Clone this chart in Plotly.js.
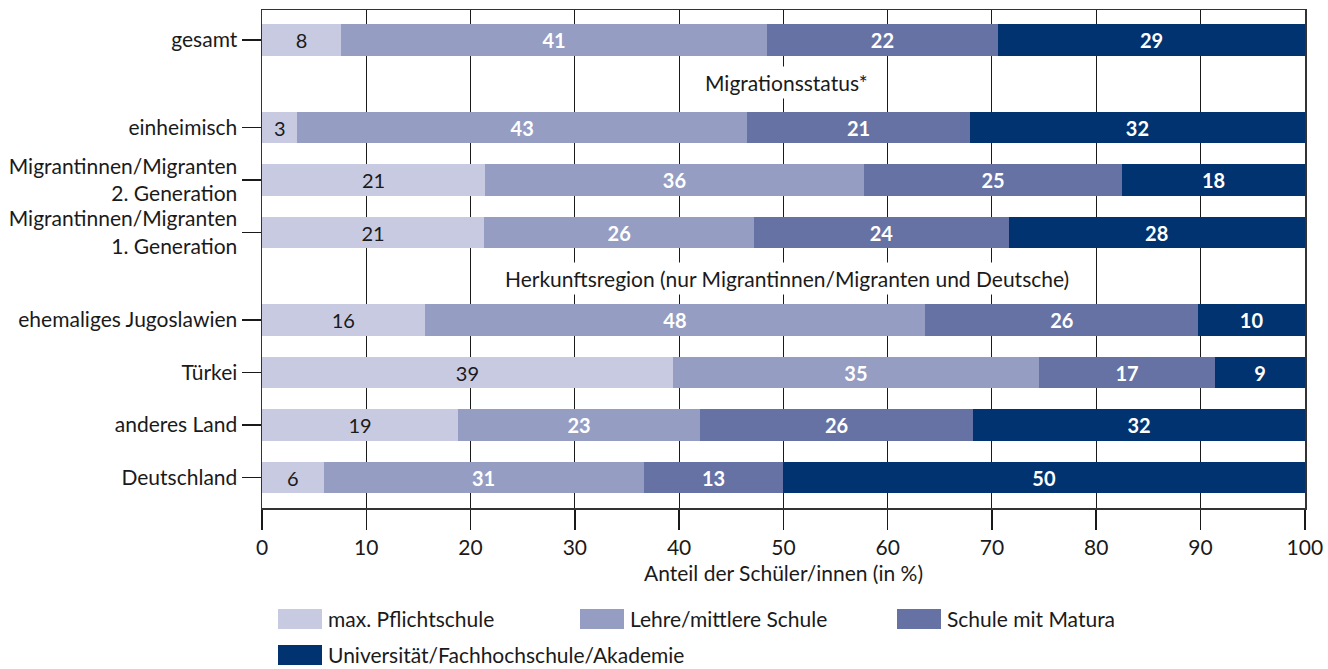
<!DOCTYPE html>
<html><head><meta charset="utf-8">
<script src="https://cdn.plot.ly/plotly-3.0.1.min.js"></script>
<style>html,body{margin:0;padding:0;background:#fff;}#chart{width:1328px;height:669px;}</style>
</head><body><div id="chart"></div>
<script>
// ---- data ----
const categories = ['gesamt','einheimisch','Migrantinnen/Migranten<br>2. Generation','Migrantinnen/Migranten<br>1. Generation','ehemaliges Jugoslawien','Türkei','anderes Land','Deutschland'];
const pflicht = [7.6, 3.4, 21.4, 21.3, 15.6, 39.4, 18.8, 5.9];
const lehre   = [40.8, 43.1, 36.3, 25.9, 48.0, 35.1, 23.2, 30.7];
const matura  = [22.2, 21.4, 24.8, 24.4, 26.2, 16.9, 26.2, 13.4];
const uni     = [29.4, 32.1, 17.5, 28.4, 10.2, 8.6, 31.8, 50.0];
const seriesNames = ['max. Pflichtschule','Lehre/mittlere Schule','Schule mit Matura','Universität/Fachhochschule/Akademie'];
const headers = ['Migrationsstatus*','Herkunftsregion (nur Migrantinnen/Migranten und Deutsche)'];
const xTicks = [0,10,20,30,40,50,60,70,80,90,100];

// ---- layout helpers ----
const groupSizes = [1,3,4];
const groupGap = 0.667;
const rowPos = [];
const headerPos = [];
let idx = 0;
groupSizes.forEach((n,g)=>{
  for(let i=0;i<n;i++){ rowPos.push(idx + g*groupGap); idx++; }
});
headerPos.push((rowPos[0]+rowPos[1])/2 - 0.03);
headerPos.push((rowPos[3]+rowPos[4])/2 + 0.05);

const colors = ['#c8cae2','#959dc3','#6672a4','#00336f'];
const txtColors = ['#1a1a1a','#ffffff','#ffffff','#ffffff'];
const weights = ['normal','bold','bold','bold'];
const FONT = 'Lato, "Open Sans", sans-serif';
const FS = 21;

const allSeries = [pflicht, lehre, matura, uni];
const traces = allSeries.map((vals,i)=>({
  type:'bar', orientation:'h', x: vals, y: rowPos, name: seriesNames[i],
  marker:{color: colors[i], line:{width:0}},
  width: 0.6,
  texttemplate:'%{x:.0f}', textposition:'inside', insidetextanchor:'middle',
  textangle:0, constraintext:'none',
  textfont:{family:FONT, size:20, color: txtColors[i], weight: weights[i]},
  hoverinfo:'skip', cliponaxis:false
}));

// plot area in pixels
const L=262, R=1305, T=10, B=508;
const W=1328, H=669;
const px = x => (x-L)/(R-L);
const py = y => (B-y)/(B-T);

const shapes=[], annotations=[];
headers.forEach((h,i)=>{
  annotations.push({x:50.3, y:headerPos[i], xref:'x', yref:'y', text:h, showarrow:false,
    font:{family:FONT,size:FS,color:'#1a1a1a'}, bgcolor:'#ffffff', borderpad:3});
});
// manual legend
const leg = [[278,609],[580,609],[897,609],[278,645]];
leg.forEach((p,i)=>{
  shapes.push({type:'rect', xref:'paper', yref:'paper', x0:px(p[0]), x1:px(p[0]+44), y0:py(p[1]), y1:py(p[1]+20),
    fillcolor:colors[i], line:{width:0}});
  annotations.push({xref:'paper', yref:'paper', x:px(p[0]+49), y:py(p[1]+9), xanchor:'left', yanchor:'middle',
    text:seriesNames[i], showarrow:false, borderpad:0, font:{family:FONT,size:FS,color:'#1a1a1a'}});
});

const layout = {
  width:W, height:H,
  margin:{l:L, r:W-R, t:T, b:H-B, pad:0},
  paper_bgcolor:'#fff', plot_bgcolor:'#fff',
  barmode:'stack', bargap:0,
  showlegend:false,
  font:{family:FONT, size:FS, color:'#1a1a1a'},
  xaxis:{range:[0,100.02], tickvals:xTicks, ticks:'outside', ticklen:20, tickwidth:1.5, tickcolor:'#1a1a1a',
    showgrid:true, gridcolor:'#1a1a1a', gridwidth:1, zeroline:false,
    showline:true, linecolor:'#333', linewidth:1.5, mirror:true,
    tickfont:{family:FONT,size:FS,color:'#1a1a1a'},
    title:{text:'Anteil der Schüler/innen (in %)', font:{family:FONT,size:FS,color:'#1a1a1a'}, standoff:8}},
  yaxis:{range:[(B-40)/52.5, (T-40)/52.5], tickvals:rowPos, ticktext:categories,
    ticks:'outside', ticklen:19, tickwidth:1.5, tickcolor:'#1a1a1a',
    showgrid:false, zeroline:false, showline:true, linecolor:'#333', linewidth:1.5, mirror:true,
    tickfont:{family:FONT,size:FS,color:'#1a1a1a'}},
  shapes:shapes, annotations:annotations
};
Plotly.newPlot('chart', traces, layout, {displayModeBar:false, staticPlot:true});
</script></body></html>
